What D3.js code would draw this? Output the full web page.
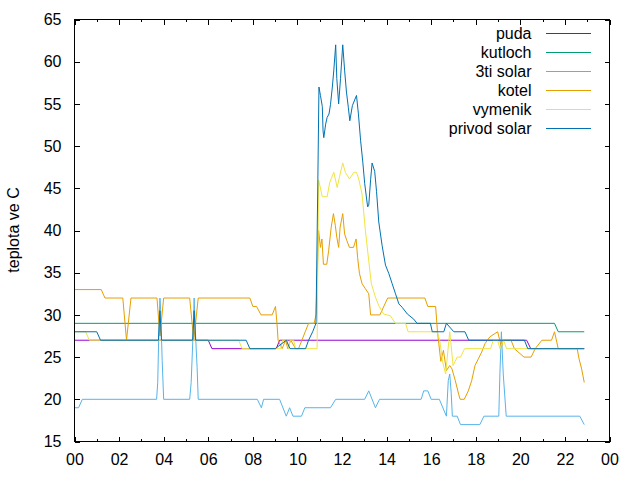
<html>
<head>
<meta charset="utf-8">
<script src="https://d3js.org/d3.v7.min.js"></script>
<style>
    body { margin: 0; background: #fff; }
    text { font-family: "Liberation Sans", Arial, sans-serif; font-size: 16px; fill: #000; }
    .axis path { stroke-width: 0; }
    .axis line { stroke: #000; shape-rendering: crispEdges; }
</style>
</head>
<body>
<svg id="chart" width="640" height="480"></svg>
<script>
// time ("HH:MM"), teplota
var puda = [["00:00",27],["06:00",27],["06:10",26],["09:03",26],["09:12",27],["20:17",27],["20:28",26],["22:52",26]];

var kutloch = [["00:00",29],["21:32",29],["21:42",28],["22:52",28]];

var tiSolar = [["00:00",19],["00:11",19],["00:21",20],
    ["03:41",20],["03:44",22],["03:47",28],["03:50",32],["03:52",30.5],["03:56",24.6],["04:00",20],
    ["05:10",20],["05:14",22],["05:20",28.7],["05:22",32],["05:26",27.4],["05:30",23.8],["05:33",20],
    ["08:12",20],["08:23",19],["08:29",20],["09:12",20],["09:30",18],["09:39",19],["09:48",18],["10:11",18],["10:20",19],
    ["11:29",19],["11:43",20],["13:01",20],["13:12",21],["13:30",19],["13:41",20],
    ["15:33",20],["15:40",21],["15:51",21],["16:00",20],["16:22",20],["16:41",18],["16:46",22.2],["16:50",23],["16:54",20.7],["16:57",18],
    ["17:10",18],["17:19",17],["18:11",17],["18:22",18],
    ["19:02",18],["19:05",23],["19:09",28],["19:14",23],["19:22",18],["22:40",18],["22:52",17]];

var kotel = [["00:00",33],["01:12",33],["01:22",32],["02:10",32],["02:20",27],["02:32",32],
    ["03:42",32],["03:50",27.5],["04:00",32],["05:10",32],["05:21",27],["05:33",32],
    ["07:52",32],["08:00",31],["08:10",31],["08:22",30],["08:52",30],["09:01",31],["09:05",29],["09:08",27],["09:19",26],
    ["09:28",27],["09:34",26],["09:42",27],["09:55",26],["10:03",26],["10:12",27],["10:21",28],["10:30",29],["10:45",29],["10:50",30],
    ["10:57",40],["11:02",38],["11:06",39],["11:10",36],["11:19",36],["11:24",37.6],["11:31",40.4],["11:37",42],["11:42",40.6],
    ["11:46",39.2],["11:51",38],["11:55",40.4],["12:02",42],["12:07",39.6],["12:13",38.8],["12:20",38],["12:31",38],["12:38",39],
    ["12:42",36.8],["12:47",34.9],["12:54",33.7],["13:03",33.1],["13:12",32.5],["13:17",30],["13:42",30],["14:03",32],
    ["15:43",32],["15:51",31],["16:12",31],["16:17",28],["16:26",24.5],["16:33",25.8],["16:41",23.4],["16:50",24],["16:56",23.6],
    ["17:05",22.2],["17:14",20.6],["17:18",20],["17:29",20],["17:40",21],["17:49",22.2],["17:58",24],["18:07",24.8],["18:16",25.6],
    ["18:25",26.6],["18:38",27.4],["18:59",28],["19:09",26.2],["19:14",27],["19:35",27],["19:44",26],["20:10",25],["20:29",25],
    ["20:40",26],["20:58",27],["21:24",27],["21:32",28],["21:42",26],["22:33",26],["22:38",24.8],["22:45",23.6],["22:52",22]];

var vymenik = [["00:00",28],["00:30",28],["00:40",27],["07:22",27],["07:31",26],["09:15",26],["09:20",27],["09:32",27],
    ["09:36",26],["09:40",27],["09:50",27],["09:55",26],["10:53",26],
    ["10:57",46],["11:07",44],["11:20",44],["11:27",45.7],["11:38",46.9],["11:47",45.1],["11:53",46.3],["12:02",48],["12:09",46.9],
    ["12:20",46.1],["12:32",46.9],["12:39",46.9],["12:45",46.1],["12:54",44.3],["13:03",40],["13:12",36.4],["13:19",33.7],
    ["13:30",32.1],["13:39",31.1],["13:52",30.1],["14:10",29.9],["14:24",29],["14:51",29],["14:58",28],
    ["16:16",28],["16:23",27],["16:31",24.4],["16:39",23],["16:50",28],["16:59",24],["17:10",25],["17:19",25],["17:30",26],
    ["18:40",26],["18:47",27],["18:59",27],["19:05",26],["19:15",27],["19:23",26],["22:52",26]];

var privodSolar = [["00:00",28],["01:00",28],["01:10",27],["03:46",27],["03:50",30.5],["03:54",27],["05:18",27],["05:22",30.5],
    ["05:26",27],["07:42",27],["07:52",26],["09:00",26],["09:30",27],["09:40",26],["10:22",26],["10:30",27],["10:41",28],["10:50",29],
    ["10:55",46],["10:58",57],["11:02",56],["11:07",54.7],["11:09",51.8],["11:11",51],["11:16",52.6],["11:20",53.4],["11:25",53.8],
    ["11:29",54.9],["11:34",57],["11:38",59],["11:43",62],["11:46",58],["11:51",55],["11:56",58],["12:02",62],["12:07",59],
    ["12:12",56.4],["12:17",54.6],["12:21",53],["12:28",54.8],["12:39",56],["12:44",53.9],["12:50",50.7],["12:56",48.1],
    ["13:01",45.6],["13:09",42.8],["13:12",43],["13:17",46],["13:21",48],["13:28",47],["13:33",44.6],["13:39",41],["13:48",38.2],
    ["13:57",35.9],["14:06",34.9],["14:15",33.7],["14:24",32.5],["14:33",31.3],["14:42",30.9],["14:56",30.1],["15:13",29.5],
    ["15:22",29],["15:58",29],["16:03",28],["16:34",28],["16:41",29],["17:01",28],["17:31",28],["17:41",27],["20:11",27],
    ["20:20",26],["22:52",26]];

var names = ["puda", "kutloch", "3ti solar", "kotel", "vymenik", "privod solar"];
var seriesData = [puda, kutloch, tiSolar, kotel, vymenik, privodSolar];
var colors = ["#9400d3", "#009e73", "#56b4e9", "#e69f00", "#f0e442", "#0072b2"];

var xMajor = d3.range(0, 25, 2);
var xMinor = d3.range(1, 24, 2);
var yTicks = d3.range(15, 66, 5);

var margin = {top: 19, right: 31, bottom: 39, left: 74},
    width = 640 - margin.left - margin.right,
    height = 480 - margin.top - margin.bottom;

var svg = d3.select("#chart");
svg.append("rect").attr("width", 640).attr("height", 480).attr("fill", "#fff");

var g = svg.append("g")
    .attr("transform", "translate(" + (margin.left + 0.5) + "," + (margin.top + 0.5) + ")");

function hours(t) {
    var p = t.split(":");
    return +p[0] + p[1] / 60;
}

var x = d3.scaleLinear().domain([0, 24]).range([0, width]);
var y = d3.scaleLinear().domain([15, 65]).range([height, 0]);

var fmtHour = function(d) { return d3.format("02d")(d % 24); };

// bottom axis with labels
g.append("g").attr("class", "axis")
    .attr("transform", "translate(0," + height + ")")
    .call(d3.axisBottom(x).tickValues(xMajor).tickSize(-5).tickPadding(12).tickFormat(fmtHour));
g.append("g").attr("class", "axis")
    .attr("transform", "translate(0," + height + ")")
    .call(d3.axisBottom(x).tickValues(xMinor).tickSize(-2.5).tickFormat(""));
// mirrored top ticks
g.append("g").attr("class", "axis")
    .call(d3.axisTop(x).tickValues(xMajor).tickSize(-5).tickFormat(""));
g.append("g").attr("class", "axis")
    .call(d3.axisTop(x).tickValues(xMinor).tickSize(-2.5).tickFormat(""));

// left / right
g.append("g").attr("class", "axis")
    .call(d3.axisLeft(y).tickValues(yTicks).tickSize(-5).tickPadding(13));
g.append("g").attr("class", "axis")
    .attr("transform", "translate(" + width + ",0)")
    .call(d3.axisRight(y).tickValues(yTicks).tickSize(-5).tickFormat(""));

g.selectAll(".axis text").style("font-size", "16px").attr("fill", "#000");

var line = d3.line()
    .x(function(d) { return x(hours(d[0])); })
    .y(function(d) { return y(d[1]); });

seriesData.forEach(function(s, i) {
    g.append("path")
        .datum(s)
        .attr("fill", "none")
        .attr("stroke", colors[i])
        .attr("stroke-width", 1)
        .attr("stroke-linejoin", "miter")
        .attr("d", line);
});

// frame
g.append("rect")
    .attr("width", width).attr("height", height)
    .attr("fill", "none").attr("stroke", "#000").attr("stroke-width", 1)
    .style("shape-rendering", "crispEdges");

// legend
var legend = g.append("g").attr("transform", "translate(0,0)");
names.forEach(function(n, i) {
    var ly = 14 + i * 19;
    legend.append("text")
        .attr("x", 457).attr("y", ly).attr("dy", "0.35em")
        .style("text-anchor", "end")
        .text(n);
    legend.append("line")
        .attr("x1", 471).attr("x2", 516)
        .attr("y1", ly).attr("y2", ly)
        .attr("stroke", colors[i]).attr("stroke-width", 1)
        .style("shape-rendering", "crispEdges");
});

// y label
svg.append("text")
    .attr("transform", "translate(19," + (margin.top + height / 2) + ") rotate(-90)")
    .style("text-anchor", "middle")
    .text("teplota ve C");
</script>
</body>
</html>
